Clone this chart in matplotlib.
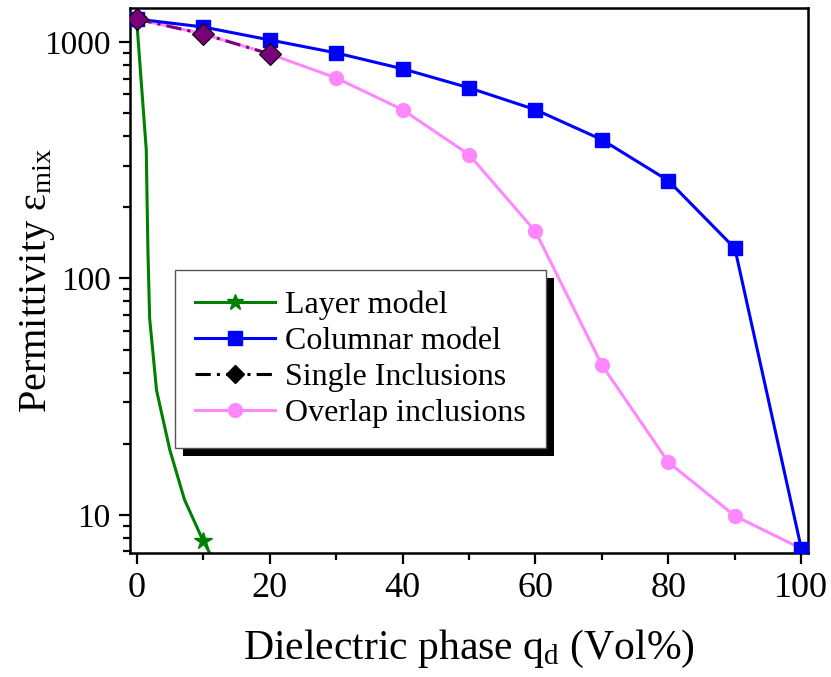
import matplotlib
matplotlib.use("Agg")
import matplotlib.pyplot as plt
from matplotlib.lines import Line2D
from matplotlib.patches import Rectangle
from matplotlib.ticker import FixedLocator, NullFormatter

# Fuente serif parecida a la del original
plt.rcParams["font.family"] = ["Liberation Serif", "DejaVu Serif"]
plt.rcParams["mathtext.fontset"] = "custom"
plt.rcParams["mathtext.rm"] = "Liberation Serif"
plt.rcParams["mathtext.it"] = "Liberation Serif:italic"

# Datos (q_d en Vol%, permitividad)
q_layer = [0, 1.45, 1.7, 1.96, 3.0, 5.0, 7.2, 10, 11]
eps_layer = [1250, 350, 131, 67.7, 33.6, 18.8, 11.6, 7.77, 6.9]
q_layer_marks = [0, 10]
eps_layer_marks = [1250, 7.77]

q_grid = [0, 10, 20, 30, 40, 50, 60, 70, 80, 90, 100]
eps_columnar = [1250, 1157, 1020, 899, 770, 640, 517, 386, 259, 134, 7.2]
eps_overlap = [1250, 1081, 890, 705, 517, 334, 158, 43, 16.7, 9.9, 7.2]

q_single = [0, 10, 20]
eps_single = [1250, 1081, 890]

labels = ["Layer model", "Columnar model", "Single Inclusions",
          "Overlap inclusions"]

VERDE = "#008000"
AZUL = "#0000ff"
ROSA = "#ff88ff"
VIOLETA = "#7a007a"
RAYA_PUNTO = (0, (5, 2, 1, 2))
LW = 2.2

fig = plt.figure(figsize=(8.31, 6.77), dpi=100)
ax = fig.add_axes([0.1564, 0.1832, 0.8159, 0.8048])

# Curvas
ax.plot(q_layer, eps_layer, color=VERDE, lw=LW, zorder=2)
ax.plot(q_layer_marks, eps_layer_marks, ls="none", marker="*",
        color=VERDE, ms=13, zorder=2)
ax.plot(q_grid, eps_overlap, color=ROSA, lw=LW, marker="o", ms=10,
        zorder=3)
ax.plot(q_grid, eps_columnar, color=AZUL, lw=LW, marker="s", ms=10.5,
        zorder=3)
ax.plot(q_single, eps_single, color=VIOLETA, lw=LW, ls=RAYA_PUNTO,
        marker="D", ms=11, mfc=VIOLETA, mec="black", mew=0.8, zorder=4)

ax.set_yscale("log")
ax.set_xlim(-1, 101)
ax.set_ylim(6.9, 1390)

# Ejes y ticks
ax.xaxis.set_major_locator(FixedLocator([0, 20, 40, 60, 80, 100]))
ax.xaxis.set_minor_locator(FixedLocator([10, 30, 50, 70, 90]))
ax.yaxis.set_major_locator(FixedLocator([10, 100, 1000]))
ax.set_yticklabels(["10", "100", "1000"])
ax.yaxis.set_minor_formatter(NullFormatter())
ax.tick_params(which="both", direction="out", top=False, right=False,
               width=1.6)
ax.tick_params(which="major", length=8, pad=6)
ax.tick_params(which="minor", length=5)
ax.tick_params(axis="x", labelsize=26)
ax.tick_params(axis="y", labelsize=24)
for s in ax.spines.values():
    s.set_linewidth(1.8)

ax.set_xlabel(r"Dielectric phase q$_{\rm d}$ (Vol%)", fontsize=30,
              labelpad=16)
ax.set_ylabel(r"Permittivity ε$_{\rm mix}$", fontsize=29)
ax.yaxis.set_label_coords(-0.108, 0.5)

# Leyenda con los marcadores como en el original (diamante negro)
handles = [
    Line2D([], [], color=VERDE, lw=LW, marker="*", ms=12),
    Line2D([], [], color=AZUL, lw=LW, marker="s", ms=10),
    Line2D([], [], color="black", lw=LW, ls=RAYA_PUNTO,
           marker="D", ms=9),
    Line2D([], [], color=ROSA, lw=LW, marker="o", ms=10),
]
leg = ax.legend(handles, labels, loc="upper left",
                bbox_to_anchor=(0.066, 0.519), borderaxespad=0,
                fontsize=23, frameon=True, fancybox=False,
                edgecolor="#555555", framealpha=1, handlelength=2.5,
                handletextpad=0.3, labelspacing=0.2, borderpad=0.65)
leg.get_frame().set_linewidth(1.0)
leg.set_zorder(11)

# Sombra negra sólida desplazada abajo a la derecha (8 px)
fig.canvas.draw()
bb = leg.get_window_extent().transformed(ax.transAxes.inverted())
dx = 8 / (ax.bbox.width)
dy = 8 / (ax.bbox.height)
sombra = Rectangle((bb.x0 + dx, bb.y0 - dy), bb.width, bb.height,
                   transform=ax.transAxes, facecolor="black",
                   edgecolor="none", zorder=10)
ax.add_patch(sombra)

fig.savefig("out.png", dpi=100, facecolor="white")
